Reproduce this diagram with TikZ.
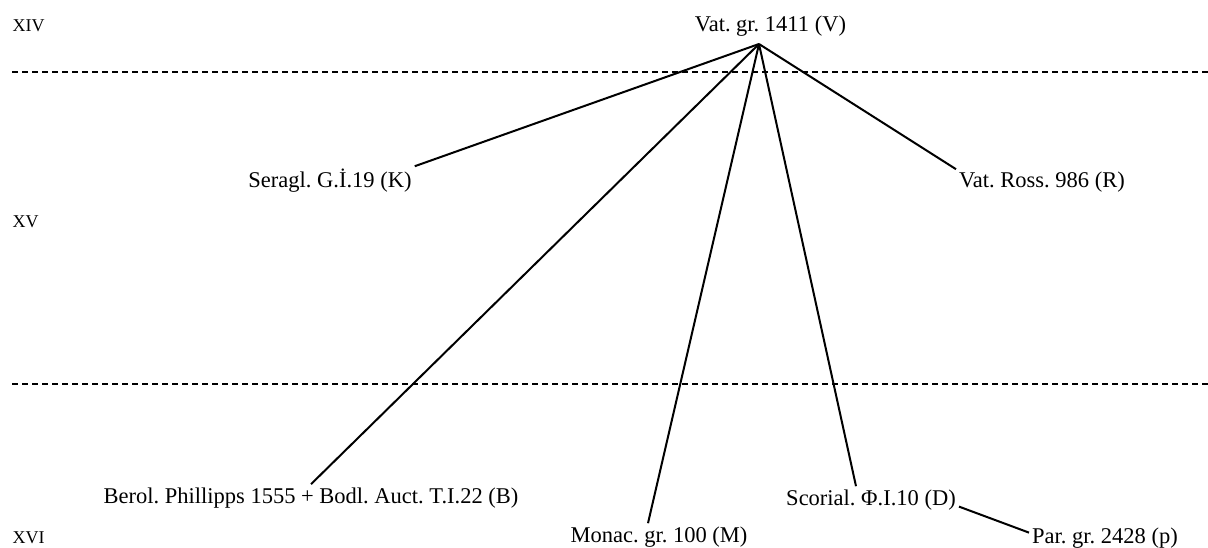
\documentclass[tikz,border=0pt]{standalone}
\usepackage{fontspec}
\setmainfont{Liberation Serif}
\usepackage{tikz}
\usetikzlibrary{positioning}
\tikzstyle{ms}=[anchor=base, inner sep=3pt, font=\fontsize{22.5}{26}\selectfont]
\tikzstyle{century}=[anchor=base west, inner sep=0pt, font=\fontsize{18}{22}\selectfont]
\tikzstyle{stemma}=[line width=2pt]
\tikzstyle{boundary}=[line width=1.2pt, dash pattern=on 6pt off 4pt]
\frenchspacing

\begin{document}
\begin{tikzpicture}[x=1pt, y=-1pt]
            \useasboundingbox (0,0) rectangle (1208,548);
            % centuries
            \node (c14)[century] at (12.5,32) {XIV};
            \node (c15)[century] at (12.5,228) {XV};
            \node (c16)[century] at (12.5,543) {XVI};
            \draw[boundary] (12,72) -- (1208,72);
            \draw[boundary] (12,384) -- (1208,384);
            % manuscripts
            \node (V)[ms] at (770.5,32) {Vat. gr. 1411 (V)};
            \node (K)[ms] at (330,188) {Seragl. G.İ.19 (K)};
            \node (R)[ms] at (1042,188) {Vat. Ross. 986 (R)};
            \node (B)[ms] at (311,503) {Berol. Phillipps 1555 + Bodl. Auct. T.I.22 (B)};
            \node (M)[ms] at (659,542) {Monac. gr. 100 (M)};
            \node (D)[ms] at (871,505) {Scorial. Φ.I.10 (D)};
            \node (P)[ms] at (1105,543) {Par. gr. 2428 (p)};
            \coordinate (apex) at (759,44);
            \draw[stemma] (apex) -- (K.north east);
            \draw[stemma] (apex) -- (R.north west);
            \draw[stemma] (apex) -- (B.north);
            \draw[stemma] (apex) -- ([xshift=-11pt]M.north);
            \draw[stemma] (apex) -- ([xshift=-15pt]D.north);
            \draw[stemma] ([yshift=-7pt]D.east) -- ([yshift=5pt]P.west);
        \end{tikzpicture}
\end{document}
